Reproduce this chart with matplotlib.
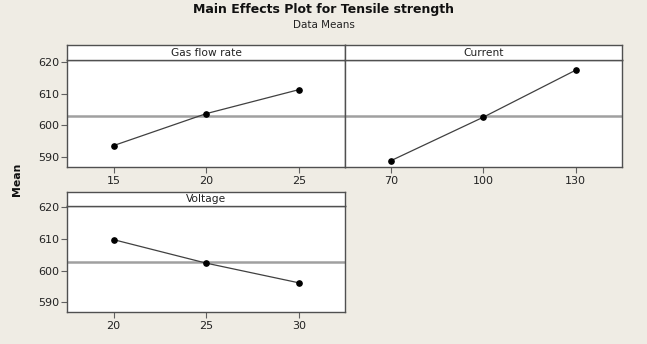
import matplotlib
matplotlib.use("Agg")
import matplotlib.pyplot as plt

# Data
gas_levels = ["15", "20", "25"]
gas_means = [593.7, 603.7, 611.2]
cur_levels = ["70", "100", "130"]
cur_means = [589.0, 602.6, 617.3]
volt_levels = ["20", "25", "30"]
volt_means = [609.8, 602.4, 596.2]
grand_mean = 602.9
y_ticks = [590, 600, 610, 620]

panels = [
    ("Gas flow rate", gas_levels, gas_means),
    ("Current", cur_levels, cur_means),
    ("Voltage", volt_levels, volt_means),
]

W, H = 647, 344
bg = "#EFECE4"
fig = plt.figure(figsize=(W / 100, H / 100), dpi=100, facecolor=bg)
plt.rcParams["font.family"] = ["DejaVu Sans"]

def fx(px):
    return px / W

def fy(py):
    return 1 - py / H

# (left, right, strip_top, data_top, bottom) in pixels
boxes = [
    (67.3, 345.0, 45.0, 60.0, 167.3),
    (345.0, 621.7, 45.0, 60.0, 167.3),
    (67.3, 345.0, 191.7, 205.7, 312.3),
]

frame_col = "#505050"
ylo, yhi = 586.9, 620.5

for i, ((name, levels, means), (l, r, st, dt, b)) in enumerate(zip(panels, boxes)):
    ax = fig.add_axes([fx(l), fy(b), fx(r) - fx(l), fy(dt) - fy(b)])
    sx = fig.add_axes([fx(l), fy(dt), fx(r) - fx(l), fy(st) - fy(dt)])
    sx.set_xticks([]); sx.set_yticks([])
    sx.set_facecolor("white")
    for s in sx.spines.values():
        s.set_color(frame_col); s.set_linewidth(1.0)
    sx.text(0.5, 0.5, name, ha="center", va="center", fontsize=7.7,
            color="#222222", transform=sx.transAxes)

    xs = list(range(len(levels)))
    ax.axhline(grand_mean, color="#a0a0a0", lw=1.8, zorder=1)
    ax.plot(xs, means, color="#404040", lw=0.9, marker="o", ms=3.8,
            mfc="black", mec="black", zorder=3)
    ax.set_xlim(-0.5, len(levels) - 0.5)
    ax.set_ylim(ylo, yhi)
    ax.set_xticks(xs)
    ax.set_xticklabels(levels)
    ax.set_yticks(y_ticks)
    ax.set_facecolor("white")
    for s in ax.spines.values():
        s.set_color(frame_col); s.set_linewidth(1.0)
    ax.tick_params(axis="both", direction="out", length=4, width=0.8,
                   color="#606060", labelsize=8, labelcolor="#222222", pad=2)
    if i == 1:
        ax.tick_params(axis="y", left=False, labelleft=False)

fig.text(0.5, fy(9), "Main Effects Plot for Tensile strength", ha="center",
         va="center", fontsize=9, fontweight="bold", color="#111111")
fig.text(0.5, fy(24.5), "Data Means", ha="center", va="center",
         fontsize=7.5, color="#222222")
fig.text(fx(17), fy(179), "Mean", rotation=90, ha="center", va="center",
         fontsize=7.8, fontweight="bold", color="#111111")

fig.savefig("out.png", dpi=100, facecolor=bg)
